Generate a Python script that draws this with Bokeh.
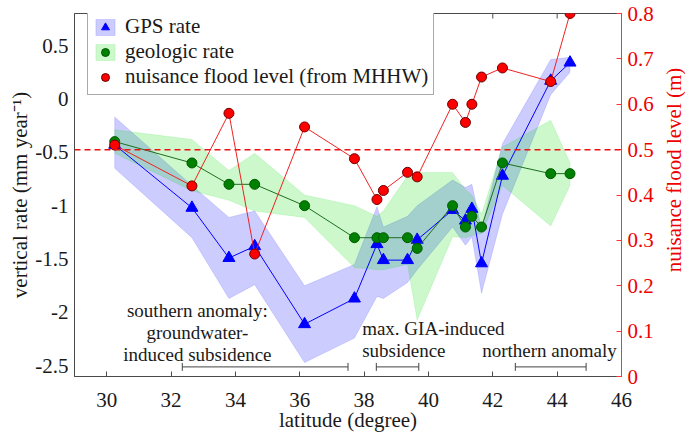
import math
from bokeh.plotting import figure
from bokeh.layouts import row
from bokeh.models import (Range1d, LinearAxis, FixedTicker, Span, Legend,
                          LegendItem, ColumnDataSource, Label)
from bokeh.embed import file_html
from bokeh.resources import INLINE
from bokeh.core.properties import value

# ---------------- data ----------------
lat = [30.25, 32.65, 33.8, 34.6, 36.15, 37.7, 38.4, 38.6, 39.35, 39.65,
       40.75, 41.15, 41.35, 41.65, 42.3, 43.8, 44.4]

gps_rate = [-0.43, -1.02, -1.49, -1.38, -2.11, -1.87, -1.36, -1.51, -1.51, -1.32,
            -1.04, -1.14, -1.03, -1.54, -0.72, 0.17, 0.34]
gps_lo = [-0.65, -1.30, -1.87, -1.74, -2.47, -2.24, -1.85, -1.87, -1.72, -1.60,
          -1.20, -1.37, -1.29, -1.82, -1.08, 0.04, 0.25]
gps_hi = [-0.17, -0.81, -1.11, -1.05, -1.75, -1.55, -1.01, -1.20, -1.10, -1.00,
          -0.76, -0.83, -0.80, -1.22, -0.42, 0.37, 0.39]

geo_rate = [-0.40, -0.60, -0.80, -0.80, -1.00, -1.30, -1.30, -1.30, -1.30, -1.40,
            -1.00, -1.20, -1.10, -1.20, -0.60, -0.70, -0.70]
geo_lo = [-0.51, -0.86, -0.95, -1.05, -1.11, -1.58, -1.60, -1.60, -1.55, -2.07,
          -1.29, -1.30, -1.28, -1.26, -0.81, -1.19, -0.81]
geo_hi = [-0.29, -0.38, -0.67, -0.51, -0.90, -1.00, -1.10, -1.05, -0.72, -0.69,
          -0.69, -0.85, -0.90, -1.08, -0.45, -0.20, -0.60]

flood_level = [0.51, 0.42, 0.58, 0.27, 0.55, 0.48, 0.39, 0.41, 0.45, 0.44,
               0.60, 0.56, 0.60, 0.66, 0.68, 0.65, 0.80]
flood_threshold = 0.5

x_ticks = [30, 32, 34, 36, 38, 40, 42, 44, 46]
y_ticks = [-2.5, -2, -1.5, -1, -0.5, 0, 0.5]
y_tick_labels = ["-2.5", "-2", "-1.5", "-1", "-0.5", "0", "0.5"]
r_ticks = [0, 0.1, 0.2, 0.3, 0.4, 0.5, 0.6, 0.7, 0.8]
r_tick_labels = ["0", "0.1", "0.2", "0.3", "0.4", "0.5", "0.6", "0.7", "0.8"]

bracket_start = [32.35, 38.38, 42.70]
bracket_end = [37.50, 39.70, 44.90]
bracket_y = [-2.51, -2.51, -2.51]

note_text = ["southern anomaly:\ngroundwater-\ninduced subsidence",
             "max. GIA-induced\nsubsidence",
             "northern anomaly"]
note_x = [32.82, 37.94, 41.67]
note_y = [-2.49, -2.455, -2.455]
note_align = ["center", "left", "left"]

FONT = "Liberation Serif"
AX = "#4a4a4a"
TXT = "#1a1a1a"
RED_AX = "#ff3333"
RED_TXT = "#ee0000"

X_RANGE = (29, 46)
Y_RANGE = (-2.6, 0.8)
R_RANGE = (0, 0.8)

# ---------------- main figure ----------------
p = figure(width=661, height=436, x_range=Range1d(*X_RANGE), y_range=Range1d(*Y_RANGE),
           output_backend="svg", toolbar_location=None,
           min_border_left=74, min_border_right=40, min_border_top=13, min_border_bottom=60)
p.extra_y_ranges = {"right": Range1d(*R_RANGE)}
p.xgrid.visible = False
p.ygrid.visible = False
p.outline_line_color = AX
p.outline_line_width = 1
p.background_fill_color = "white"

# bands
gps_band = p.patch(x=lat + lat[::-1], y=gps_hi + gps_lo[::-1],
                   fill_color="blue", fill_alpha=0.2, line_color="blue", line_alpha=0.12)
geo_band = p.patch(x=lat + lat[::-1], y=geo_hi + geo_lo[::-1],
                   fill_color="#00dd00", fill_alpha=0.2, line_color="#00dd00", line_alpha=0.12)

src = ColumnDataSource(dict(lat=lat, gps=gps_rate, geo=geo_rate, flood=flood_level))

p.line("lat", "gps", source=src, line_color="blue", line_width=1)
gps_pts = p.scatter("lat", "gps", source=src, marker="triangle", size=12,
                    fill_color="blue", line_color="blue")

p.line("lat", "geo", source=src, line_color="#1f6e1f", line_width=1)
geo_pts = p.scatter("lat", "geo", source=src, marker="circle", size=10,
                    fill_color="#008000", line_color="#005a00")

p.line("lat", "flood", source=src, line_color="#ee2222", line_width=1, y_range_name="right")
flood_pts = p.scatter("lat", "flood", source=src, marker="circle", size=10,
                      fill_color="#ff0000", line_color="#6b0000", y_range_name="right")

p.add_layout(Span(location=flood_threshold, dimension="width", y_range_name="right",
                  line_color="#ee1111", line_width=1.5, line_dash="6 4"))

# top-edge tick marks (mirror of the bottom axis ticks, clipped to the frame)
p.scatter(x=x_ticks, y=[Y_RANGE[1]] * len(x_ticks), marker="dash", angle=math.pi / 2,
          size=10, line_color=AX, line_width=1)

# brackets
bsrc = ColumnDataSource(dict(x0=bracket_start, x1=bracket_end, y=bracket_y))
p.segment(x0="x0", y0="y", x1="x1", y1="y", source=bsrc, line_color="#444444", line_width=1)
p.scatter(x="x0", y="y", source=bsrc, marker="dash", angle=math.pi / 2, size=8,
          line_color="#444444", line_width=1)
p.scatter(x="x1", y="y", source=bsrc, marker="dash", angle=math.pi / 2, size=8,
          line_color="#444444", line_width=1)

nsrc = ColumnDataSource(dict(x=note_x, y=note_y, text=note_text, align=note_align))
p.text(x="x", y="y", text="text", source=nsrc, text_align="align", text_baseline="bottom",
       text_font=value(FONT), text_font_size="19px", text_color=TXT, text_line_height=1.03)

# ---------------- axes ----------------
xa = p.xaxis[0]
xa.ticker = FixedTicker(ticks=x_ticks)
xa.axis_label = "latitude (degree)"
xa.major_tick_in = 5
xa.major_tick_out = 0
xa.minor_tick_in = 0
xa.minor_tick_out = 0
xa.major_label_standoff = 16
xa.axis_label_standoff = -2
xa.axis_line_color = AX
xa.major_tick_line_color = AX
xa.major_label_text_font = FONT
xa.major_label_text_font_size = "21px"
xa.major_label_text_color = TXT
xa.axis_label_text_font = FONT
xa.axis_label_text_font_size = "21px"
xa.axis_label_text_font_style = "normal"
xa.axis_label_text_color = TXT

ya = p.yaxis[0]
ya.ticker = FixedTicker(ticks=y_ticks)
ya.major_label_overrides = {t: l for t, l in zip(y_ticks, y_tick_labels)}
ya.axis_label = "vertical rate (mm year\u207b\u00b9)"
ya.major_tick_in = 0
ya.major_tick_out = 0
ya.minor_tick_in = 0
ya.minor_tick_out = 0
ya.major_label_standoff = 6
ya.axis_label_standoff = 0
ya.axis_line_color = AX
ya.major_label_text_font = FONT
ya.major_label_text_font_size = "21px"
ya.major_label_text_color = TXT
ya.axis_label_text_font = FONT
ya.axis_label_text_font_size = "21px"
ya.axis_label_text_font_style = "normal"
ya.axis_label_text_color = TXT

ra = LinearAxis(y_range_name="right", ticker=FixedTicker(ticks=r_ticks))
ra.major_label_overrides = {t: l for t, l in zip(r_ticks, r_tick_labels)}
ra.major_tick_in = 5
ra.major_tick_out = 0
ra.minor_tick_in = 0
ra.minor_tick_out = 0
ra.major_label_standoff = 6
ra.axis_line_color = RED_AX
ra.major_tick_line_color = RED_AX
ra.major_label_text_font = FONT
ra.major_label_text_font_size = "21px"
ra.major_label_text_color = RED_TXT
p.add_layout(ra, "right")

# ---------------- legend ----------------
legend = Legend(items=[
    LegendItem(label="GPS rate", renderers=[gps_band, gps_pts]),
    LegendItem(label="geologic rate", renderers=[geo_band, geo_pts]),
    LegendItem(label="nuisance flood level (from MHHW)", renderers=[flood_pts]),
], location=(13, 281))
legend.label_text_font = FONT
legend.label_text_font_size = "21px"
legend.label_text_color = TXT
legend.glyph_width = 24
legend.glyph_height = 20
legend.label_standoff = 8
legend.padding = 5
legend.spacing = 0
legend.margin = 0
legend.border_line_color = "#555555"
legend.border_line_width = 1
legend.background_fill_alpha = 1
p.add_layout(legend)

# ---------------- right-hand axis title (reads bottom-to-top, as in the reference) ----
p2 = figure(width=24, height=436, x_range=Range1d(0, 1), y_range=Range1d(0, 436),
            output_backend="svg", toolbar_location=None,
            x_axis_location=None, y_axis_location=None, min_border=0)
p2.grid.visible = False
p2.outline_line_color = None
p2.add_layout(Label(x=0.5, y=248, text="nuisance flood level (m)", angle=math.pi / 2,
                    text_align="center", text_baseline="middle", text_font=FONT,
                    text_font_size="21px", text_color=RED_TXT))

open("out.html", "w").write(file_html(row(p, p2), INLINE))
